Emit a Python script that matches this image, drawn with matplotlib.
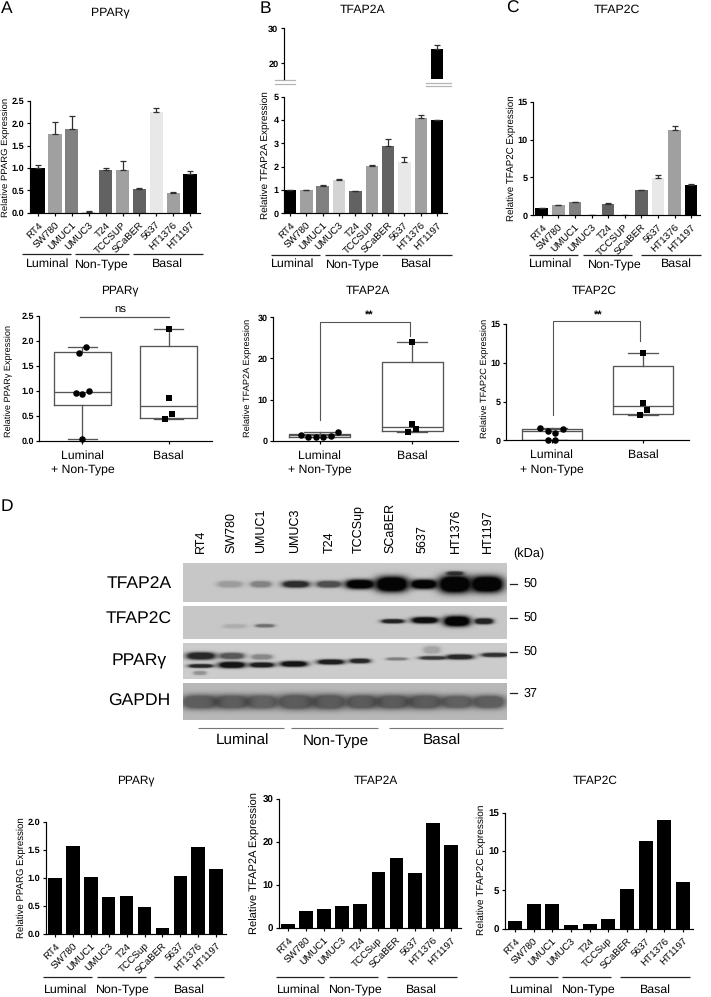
import numpy as np
import matplotlib
matplotlib.use('Agg')
import matplotlib.pyplot as plt

plt.rcParams['font.family'] = ['Liberation Sans', 'DejaVu Sans']
plt.rcParams['text.hinting'] = 'none'
plt.rcParams['axes.linewidth'] = 0.85
plt.rcParams['xtick.major.width'] = 0.85
plt.rcParams['ytick.major.width'] = 0.85

W, H = 711, 997

# cell lines
lines_upper = ['RT4', 'SW780', 'UMUC1', 'UMUC3', 'T24', 'TCCSUP', 'SCaBER', '5637', 'HT1376', 'HT1197']
lines_lower = ['RT4', 'SW780', 'UMUC1', 'UMUC3', 'T24', 'TCCSup', 'SCaBER', '5637', 'HT1376', 'HT1197']

# top row, mRNA
ppar_vals = [1.01, 1.76, 1.88, 0.02, 0.96, 0.95, 0.54, 2.25, 0.44, 0.86]
ppar_err = [0.05, 0.26, 0.28, 0.02, 0.05, 0.20, 0.02, 0.09, 0.03, 0.08]
tfap2a_vals = [1.0, 1.0, 1.15, 1.44, 0.95, 2.02, 2.87, 2.2, 4.07, 4.0]
tfap2a_err = [0.0, 0.01, 0.07, 0.02, 0.02, 0.06, 0.30, 0.20, 0.15, 0.0]
tfap2a_high = 24.0
tfap2a_high_err = 1.3
tfap2c_vals = [1.0, 1.3, 1.7, 0.0, 1.5, 0.0, 3.3, 4.9, 11.2, 3.95]
tfap2c_err = [0.0, 0.08, 0.1, 0.0, 0.08, 0.0, 0.05, 0.45, 0.55, 0.2]

bar_cols = ['#000000', '#a0a0a0', '#808080', '#d4d4d4', '#626262', '#a0a0a0', '#626262', '#e8e8e8', '#a0a0a0', '#000000']

# box plots: whislo, q1, med, q3, whishi
box_ppar = [[0.03, 0.71, 0.97, 1.78, 1.87], [0.44, 0.46, 0.69, 1.89, 2.23]]
box_tfap2a = [[1.0, 1.0, 1.3, 1.75, 2.0], [2.2, 2.3, 3.4, 19.1, 24.0]]
box_tfap2c = [[0.0, 0.0, 1.2, 1.5, 1.65], [3.3, 3.4, 4.4, 9.6, 11.2]]

pts_ppar_lum = [1.87, 1.75, 0.95, 0.94, 1.0, 0.03]
pts_ppar_bas = [2.23, 0.85, 0.53, 0.43]
pts_tfap2a_lum = [1.4, 1.0, 0.9, 1.0, 1.1, 2.0]
pts_tfap2a_bas = [24.0, 4.0, 2.8, 2.2]
pts_tfap2c_lum = [1.65, 1.25, 1.0, 1.45, 0.0, 0.0]
pts_tfap2c_bas = [11.2, 4.85, 3.85, 3.3]

# horizontal spread of the points, in units of category spacing
off_ppar_lum = [0.04, -0.04, -0.08, 0.0, 0.08, 0.0]
off_tfap2a_lum = [-0.2, -0.12, -0.04, 0.04, 0.12, 0.2]
off_tfap2c_lum = [-0.13, -0.04, 0.04, 0.12, -0.04, 0.04]
off_bas = [0.0, 0.0, 0.04, -0.04]

# bottom row, densitometry
dens_ppar = [1.0, 1.56, 1.01, 0.66, 0.68, 0.47, 0.10, 1.03, 1.54, 1.16]
dens_tfap2a = [1.1, 4.0, 4.4, 5.1, 5.7, 13.0, 16.2, 12.8, 24.5, 19.4]
dens_tfap2c = [1.0, 3.25, 3.2, 0.55, 0.65, 1.25, 5.2, 11.3, 14.1, 6.0]

# western blot band strengths and their geometry (x, y, half width, half height) in px
blot_a_strength = [0.22, 0.35, 0.8, 0.62, 1.0, 1.0, 1.0, 1.0, 1.0, 0.7]
blot_a_geom = [(230, 584, 12, 3), (261, 584, 10, 3), (296, 584, 13, 3.2), (329, 584, 12, 3.2), (360, 584, 14, 4.5),
               (392, 584, 16, 7.5), (424, 584, 13, 4.5), (455, 584, 16, 8.5), (487, 584, 16, 8), (455, 573, 8, 1.8)]
blot_c_strength = [0.13, 0.45, 0.85, 0.95, 1.0, 0.85]
blot_c_geom = [(235, 626, 11, 2), (265, 625.5, 9, 1.6), (393, 621, 11, 2), (425, 620, 13, 3), (457, 621, 13, 5), (484, 621, 9, 2.8)]
blot_p_strength = [0.85, 0.85, 0.3, 0.6, 0.95, 0.35, 0.9, 0.95, 0.9, 0.85, 0.4, 0.75, 0.2, 0.85, 0.8]
blot_p_geom = [(201, 656, 14, 3.5), (201, 666, 12, 1.8), (200, 673, 6, 1.8), (232, 656, 12, 3), (232, 665, 13, 3),
               (262, 657, 10, 2.5), (262, 665, 12, 2.4), (294, 664, 13, 2.7), (331, 662, 13, 2.4), (360, 661, 10, 2.2),
               (397, 659, 10, 1.4), (433, 658, 13, 1.7), (432, 650, 8, 3.5), (460, 657, 13, 2.4), (495, 655, 13, 2)]
blot_g_strength = [0.58, 0.58, 0.55, 0.6, 0.6, 0.6, 0.6, 0.6, 0.56, 0.58]
blot_g_geom = [(200, 702, 18, 7), (232, 702, 17, 7), (262, 702, 16, 7), (296, 702, 18, 7.5), (329, 702, 17, 7.5),
               (362, 702, 16, 7), (393, 702, 17, 7), (425, 702, 17, 7), (457, 702, 16, 6.5), (489, 702, 16, 6.5)]


def px_axes(l, t, r, b):
    ax = fig.add_axes([l / W, 1 - b / H, (r - l) / W, (b - t) / H])
    ax.patch.set_alpha(0)
    for s in ['top', 'right']:
        ax.spines[s].set_visible(False)
    return ax


def bar_panel(rect, c0, step, vals, err, cols, names, ymax, yticks, ylab, labfs, tickfs=6.6, width=0.78):
    l, t, r, b = rect
    ax = px_axes(l, t, r, b)
    x = np.arange(len(vals))
    ax.bar(x, vals, width=width, color=cols)
    if err is not None:
        ax.errorbar(x, vals, yerr=[np.zeros(len(err)), err], fmt='none', ecolor='#303030', elinewidth=0.9, capsize=1.9, capthick=0.9)
    ax.set_xlim((l - c0) / step, (r - c0) / step)
    ax.set_ylim(0, ymax)
    ax.set_yticks(yticks)
    ax.set_yticklabels(yticks, fontsize=tickfs, fontweight='bold')
    ax.set_xticks(x)
    ax.set_xticklabels(names, rotation=45, ha='right', va='top', rotation_mode='anchor', fontsize=7.1)
    ax.tick_params(length=2.5, pad=1.5)
    ax.tick_params(axis='x', pad=3.2)
    ax.set_ylabel(ylab[0], fontsize=labfs, va='center')
    ax.yaxis.set_label_coords(ylab[1] / W, 1 - ylab[2] / H, transform=fig.transFigure)
    return ax


def box_panel(rect, stats, pts, offs, ymax, yticks, ylab, labfs, width=0.66):
    ax = px_axes(*rect)
    bxp_stats = []
    for st in stats:
        bxp_stats.append({'whislo': st[0], 'q1': st[1], 'med': st[2], 'q3': st[3], 'whishi': st[4], 'fliers': []})
    lp = dict(color='#555555', linewidth=0.95)
    ax.bxp(bxp_stats, positions=[1, 2], widths=width, capwidths=width / 2, showfliers=False,
           boxprops=lp, medianprops=lp, whiskerprops=lp, capprops=lp)
    ax.scatter(1 + np.array(offs[0]), pts[0], marker='o', s=22, color='black', zorder=5, clip_on=False, linewidths=0)
    ax.scatter(2 + np.array(offs[1]), pts[1], marker='s', s=22, color='black', zorder=5, clip_on=False, linewidths=0)
    ax.set_xlim(0.5, 2.5)
    ax.set_ylim(0, ymax)
    ax.set_yticks(yticks)
    ax.set_yticklabels(yticks, fontsize=6.5, fontweight='bold')
    ax.set_xticks([1, 2])
    ax.set_xticklabels(['Luminal\n+ Non-Type', 'Basal'], fontsize=8.8, linespacing=1.38, va='top')
    ax.tick_params(length=2.5, pad=1.5)
    ax.tick_params(axis='x', pad=4)
    ax.set_ylabel(ylab[0], fontsize=labfs, va='center')
    ax.yaxis.set_label_coords(ylab[1] / W, 1 - ylab[2] / H, transform=fig.transFigure)
    return ax


def bracket(ax, x1, x2, y_left, y_top, y_right):
    ax.plot([x1, x1, x2, x2], [y_left, y_top, y_top, y_right], color='#555555', lw=0.8, clip_on=False)


def blot(l, t, r, b, strengths, geom, bg, dark):
    xs = np.arange(l, r, 0.5)
    ys = np.arange(t, b, 0.5)
    xx, yy = np.meshgrid(xs, ys)
    keep = np.ones_like(xx)
    for s, (cx, cy, wx, wy) in zip(strengths, geom):
        g = np.exp(-np.abs((xx - cx) / wx) ** 3 - np.abs((yy - cy) / wy) ** 2.4)
        keep = keep * (1 - s * np.minimum(1, 1.8 * g))
    img = dark + (bg - dark) * keep
    overlay.imshow(img, cmap='gray', vmin=0, vmax=1, extent=[l, r, b, t], aspect='auto', zorder=1, interpolation='bilinear')


fig = plt.figure(figsize=(W / 100, H / 100), dpi=100)

# overlay in pixel coordinates for everything outside the axes
overlay = fig.add_axes([0, 0, 1, 1])
overlay.axis('off')


def txt(x, y, s, fs, **kw):
    kw.setdefault('ha', 'center')
    kw.setdefault('va', 'center')
    overlay.text(x, y, s, fontsize=fs, **kw)


def groups(y_line, y_text, segs, centers, fs=8.9, col='#222222', lw=0.9):
    for (a, b), cx, name in zip(segs, centers, ['Luminal', 'Non-Type', 'Basal']):
        overlay.plot([a, b], [y_line, y_line], color=col, lw=lw, solid_capstyle='butt')
        txt(cx, y_text, name, fs)


# panel letters
for x, y, s in [(7, 8.5, 'A'), (265, 8.5, 'B'), (512, 8.5, 'C'), (7, 507, 'D')]:
    txt(x, y, s, 12.5)

# top row
bar_panel((30, 101, 200, 212.7), 38, 16.9, ppar_vals, ppar_err, bar_cols, lines_upper, 2.5,
          [0.0, 0.5, 1.0, 1.5, 2.0, 2.5], ('Relative PPARG Expression', 5.5, 157), 6.8, width=0.79)
bar_panel((284, 96.7, 447, 213.3), 290, 16.35, tfap2a_vals, tfap2a_err, bar_cols, lines_upper, 5,
          [0, 1, 2, 3, 4, 5], ('Relative TFAP2A Expression', 265.7, 155), 7.2, width=0.76)
bar_panel((533.3, 101.7, 700, 215.3), 541.7, 16.6, tfap2c_vals, tfap2c_err, bar_cols, lines_upper, 15,
          [0, 5, 10, 15], ('Relative TFAP2C Expression', 511.7, 158), 7.0, width=0.76)

# broken upper part of the TFAP2A axis
ax_up = px_axes(284, 28.3, 447, 79.3)
ax_up.bar([9], [tfap2a_high], width=0.76, color='black')
ax_up.errorbar([9], [tfap2a_high], yerr=[[0], [tfap2a_high_err]], fmt='none', ecolor='#303030', elinewidth=0.9, capsize=1.9, capthick=0.9)
ax_up.set_xlim((284 - 290) / 16.35, (447 - 290) / 16.35)
ax_up.set_ylim(15.43, 30)
ax_up.set_yticks([20, 30])
ax_up.set_yticklabels([20, 30], fontsize=6.6, fontweight='bold')
ax_up.set_xticks([])
ax_up.spines['bottom'].set_visible(False)
ax_up.tick_params(length=2.5, pad=1.5)
for x1, x2, ys in [(275, 295, (80.3, 84)), (425.7, 451, (82.7, 86.3))]:
    for y in ys:
        overlay.plot([x1, x2], [y, y], color='#b5b5b5', lw=0.9)

txt(110.7, 12.7, 'PPARγ', 8.8)
txt(362.7, 10, 'TFAP2A', 8.8)
txt(616.7, 9.5, 'TFAP2C', 8.8)
groups(254.4, 264, [(21.7, 70.7), (75, 129), (133.3, 203.3)], [47.7, 101.7, 167.3])
groups(254.7, 264, [(271, 320), (325, 380), (382.3, 452.3)], [292.3, 352.7, 416])
groups(254.7, 264, [(529.3, 578.3), (583.3, 631.7), (640.7, 700.7)], [550.3, 615, 676.7])

# box plots
box_panel((39.3, 315.7, 211.7, 440.7), box_ppar, (pts_ppar_lum, pts_ppar_bas), (off_ppar_lum, off_bas), 2.5,
          [0.0, 0.5, 1.0, 1.5, 2.0, 2.5], ('Relative PPARγ Expression', 9.3, 381), 6.6)
ax_b2 = box_panel((273.3, 317.3, 458.3, 440.7), box_tfap2a, (pts_tfap2a_lum, pts_tfap2a_bas), (off_tfap2a_lum, off_bas), 30,
                  [0, 10, 20, 30], ('Relative TFAP2A Expression', 247.7, 378), 6.7)
ax_b3 = box_panel((506, 324, 689, 440.3), box_tfap2c, (pts_tfap2c_lum, pts_tfap2c_bas), (off_tfap2c_lum, off_bas), 15,
                  [0, 5, 10, 15], ('Relative TFAP2C Expression', 484.5, 378), 6.7)
bracket(ax_b2, 1, 1.98, 5, 28.8, 25.5)
bracket(ax_b3, 1.01, 1.96, 3.3, 15.4, 12.85)
overlay.plot([80, 169], [317.3, 317.3], color='#555555', lw=0.9)
txt(120, 310.5, 'ns', 8.2)
txt(369.5, 316, '**', 8, fontweight='bold')
txt(598, 316, '**', 8, fontweight='bold')
txt(120, 290.7, 'PPARγ', 8.6)
txt(367.7, 291, 'TFAP2A', 8.6)
txt(594.3, 291, 'TFAP2C', 8.6)

# western blot
blot(183.3, 563, 507.3, 601.7, blot_a_strength, blot_a_geom, 0.78, 0.02)
blot(183.3, 606, 507.3, 639, blot_c_strength, blot_c_geom, 0.78, 0.02)
blot(183.3, 643.3, 507.3, 679, blot_p_strength, blot_p_geom, 0.80, 0.04)
blot(183.3, 683.3, 507.3, 720.3, blot_g_strength, blot_g_geom, 0.72, 0.12)

lane_x = [200.7, 230.7, 260.7, 294.3, 329, 357.7, 390, 421.7, 455.7, 487.3]
for x, name in zip(lane_x, lines_lower):
    txt(x, 552.5, name, 9, rotation=90, va='bottom')
txt(528.3, 553.7, '(kDa)', 9.2)
for y, lab in [(583.3, 'TFAP2A'), (619, 'TFAP2C'), (660.7, 'PPARγ'), (701.7, 'GAPDH')]:
    txt(139, y, lab, 12.6)
for y, lab in [(583.7, '50'), (617.7, '50'), (651.7, '50'), (693.3, '37')]:
    overlay.plot([510, 517.3], [y, y], color='#222222', lw=0.9)
    txt(530, y, lab, 9)
groups(728.3, 741, [(198.3, 284), (290.7, 378.3), (389.3, 503.3)], [242.7, 336, 441.7], fs=11, col='#777777', lw=0.8)

# bottom row
bar_panel((45.7, 821.7, 226, 933.7), 55, 17.9, dens_ppar, None, 'black', lines_lower, 2.0,
          [0.0, 0.5, 1.0, 1.5, 2.0], ('Relative PPARG Expression', 21, 877.3), 6.9, width=0.75)
bar_panel((279, 799, 461, 928.3), 287.7, 18.15, dens_tfap2a, None, 'black', lines_lower, 30,
          [0, 10, 20, 30], ('Relative TFAP2A Expression', 255, 863), 8.0, tickfs=7.0, width=0.75)
bar_panel((505, 812.7, 692.7, 929), 515, 18.67, dens_tfap2c, None, 'black', lines_lower, 15,
          [0, 5, 10, 15], ('Relative TFAP2C Expression', 481.7, 870), 7.3, tickfs=7.0, width=0.75)
txt(135.7, 780.7, 'PPARγ', 8.6)
txt(376, 780.7, 'TFAP2A', 8.6)
txt(594.7, 780.7, 'TFAP2C', 8.6)
groups(977, 989.3, [(43.3, 91.7), (96.7, 145.7), (154.3, 224.3)], [65.7, 123.3, 189.3])
groups(977, 989.3, [(275.7, 324.3), (329, 377.7), (386.7, 456.7)], [298.3, 355.7, 421.7])
groups(977, 989.3, [(509.3, 557.7), (562.3, 611), (620, 690)], [531.7, 589, 655.3])

overlay.set_xlim(0, W)
overlay.set_ylim(H, 0)

fig.savefig('out.png', dpi=100, facecolor='white')
